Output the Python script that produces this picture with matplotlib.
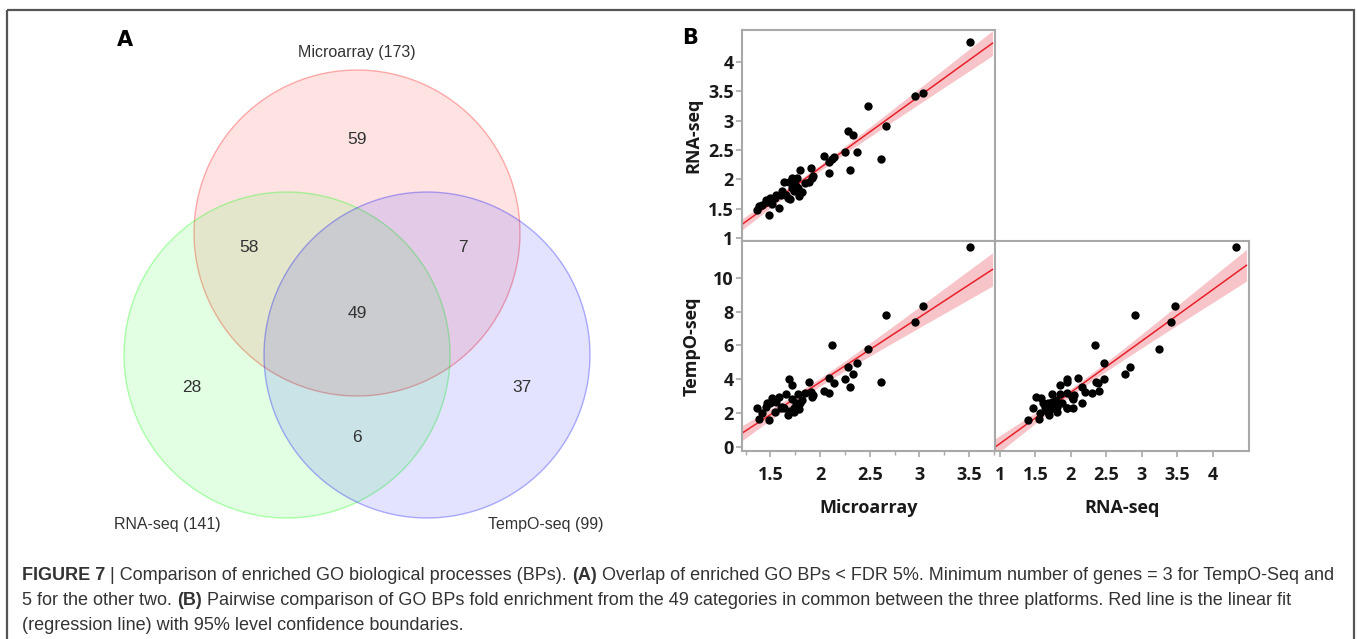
import numpy as np
import matplotlib
matplotlib.use("Agg")
import matplotlib.pyplot as plt
from matplotlib.patches import Circle, Rectangle
from matplotlib.ticker import MultipleLocator

W, H = 1357, 639

# ---- panel A : venn counts ----
set_names = ["Microarray (173)", "RNA-seq (141)", "TempO-seq (99)"]
only_counts = [59, 28, 37]        # microarray, rna-seq, tempo-seq
pair_counts = [58, 7, 6]          # micro&rna, micro&tempo, rna&tempo
all_count = 49
venn_colors = ["red", "lime", "blue"]

# ---- panel B : fold enrichment of the 49 shared GO BPs ----
microarray = [3.51, 2.95, 3.04, 2.48, 2.66, 2.12, 2.61, 2.37, 2.28, 2.33, 2.30, 2.25, 2.09, 2.14, 2.04, 2.09,
              1.36, 1.39, 1.42, 1.46, 1.47, 1.49, 1.50, 1.52, 1.55, 1.56, 1.59, 1.61, 1.62, 1.64, 1.66, 1.68,
              1.69, 1.70, 1.72, 1.72, 1.74, 1.74, 1.76, 1.77, 1.78, 1.79, 1.80, 1.82, 1.85, 1.89, 1.91, 1.92, 1.93]
rnaseq = [4.33, 3.41, 3.46, 3.24, 2.90, 2.34, 2.35, 2.46, 2.83, 2.76, 2.15, 2.46, 2.10, 2.38, 2.40, 2.30,
          1.47, 1.55, 1.57, 1.64, 1.61, 1.40, 1.68, 1.58, 1.68, 1.73, 1.51, 1.73, 1.80, 1.95, 1.73, 1.69,
          1.95, 1.66, 2.03, 1.85, 1.95, 1.80, 1.88, 2.03, 1.85, 1.71, 2.15, 1.79, 1.94, 1.95, 2.20, 2.02, 2.05]
tempo = [11.86, 7.41, 8.36, 5.81, 7.83, 6.01, 3.85, 4.94, 4.72, 4.31, 3.56, 3.99, 4.05, 3.79, 3.30, 3.16,
         2.27, 1.64, 2.02, 2.37, 2.57, 1.58, 2.57, 2.90, 2.08, 2.67, 2.96, 2.27, 2.37, 2.27, 3.14, 1.88,
         4.01, 2.11, 2.83, 3.66, 2.27, 2.08, 2.57, 2.31, 3.10, 2.23, 2.57, 2.77, 3.16, 3.83, 3.26, 2.96, 3.06]

micro_ticks = [1.5, 2, 2.5, 3, 3.5]
rna_ticks = [1, 1.5, 2, 2.5, 3, 3.5, 4]
tempo_ticks = [0, 2, 4, 6, 8, 10]

caption = [
    [("FIGURE 7", True), (" | Comparison of enriched GO biological processes (BPs). ", False), ("(A)", True),
     (" Overlap of enriched GO BPs < FDR 5%. Minimum number of genes = 3 for TempO-Seq and", False)],
    [("5 for the other two. ", False), ("(B)", True),
     (" Pairwise comparison of GO BPs fold enrichment from the 49 categories in common between the three platforms. Red line is the linear fit", False)],
    [("(regression line) with 95% level confidence boundaries.", False)],
]

fig = plt.figure(figsize=(W / 100, H / 100), dpi=100)
bg = fig.add_axes([0, 0, 1, 1])
bg.set_xlim(0, W)
bg.set_ylim(H, 0)
bg.axis("off")

# outer frame
bg.add_patch(Rectangle((7, 10), 1347, 700, fill=False, ec="#555555", lw=1.6))

# venn circles
r = 163
centers = [(357, 233), (287, 355), (427, 355)]
for (cx, cy), col in zip(centers, venn_colors):
    bg.add_patch(Circle((cx, cy), r, fc=col, alpha=0.11, ec="none"))
    bg.add_patch(Circle((cx, cy), r, fill=False, ec=col, alpha=0.3, lw=1))

vfont = dict(family="Liberation Sans", color="#333333", ha="center", va="center")
bg.text(125, 40, "A", fontsize=15, fontweight="bold", family="DejaVu Sans", ha="center", va="center")
for (x, y), s in zip([(357, 53), (167, 524), (546, 524)], set_names):
    bg.text(x, y, s, fontsize=11.5, **vfont)
for (x, y), n in zip([(357, 140), (192, 387), (522, 387)], only_counts):
    bg.text(x, y, str(n), fontsize=12.5, **vfont)
for (x, y), n in zip([(249, 248), (463, 248), (357, 438)], pair_counts):
    bg.text(x, y, str(n), fontsize=12.5, **vfont)
bg.text(357, 313, str(all_count), fontsize=12.5, **vfont)

# caption with bold pieces
rend = fig.canvas.get_renderer()
cap_kw = dict(family="Liberation Sans", fontsize=13, color="#333333", va="baseline")


def width_of(s, **kw):
    t1 = bg.text(0, 0, "|" + s + "|", **kw)
    t2 = bg.text(0, 0, "||", **kw)
    w = t1.get_window_extent(renderer=rend).width - t2.get_window_extent(renderer=rend).width
    t1.remove()
    t2.remove()
    return w


for i, line in enumerate(caption):
    x = 22
    y = 580 + 25 * i
    for s, bold in line:
        kw = dict(cap_kw, fontweight="bold" if bold else "normal")
        bg.text(x, y, s, **kw)
        x += width_of(s, **kw)

# ---- panel B ----
bg.text(690, 38, "B", fontsize=15, fontweight="bold", family="DejaVu Sans", ha="center", va="center")

sfont = "Open Sans"
grey = "#a8a8a8"


def px_axes(x0, y0, x1, y1):
    return fig.add_axes([x0 / W, 1 - y1 / H, (x1 - x0) / W, (y1 - y0) / H])


def style(ax):
    for sp in ax.spines.values():
        sp.set_color(grey)
        sp.set_linewidth(1.5)
    ax.tick_params(colors=grey, labelcolor="#1a1a1a", labelsize=13, length=4, width=1.2, pad=2)
    ax.tick_params(which="minor", colors=grey, length=3, width=1)
    for lab in ax.get_xticklabels() + ax.get_yticklabels():
        lab.set_fontweight("bold")
        lab.set_family(sfont)


def scatter_fit(ax, x, y, xlim, ylim):
    x = np.asarray(x)
    y = np.asarray(y)
    n = len(x)
    b, a = np.polyfit(x, y, 1)
    s = np.sqrt(np.sum((y - (a + b * x)) ** 2) / (n - 2))
    xs = np.linspace(xlim[0], xlim[1] - 0.01 * (xlim[1] - xlim[0]), 200)
    se = s * np.sqrt(1 / n + (xs - x.mean()) ** 2 / np.sum((x - x.mean()) ** 2))
    t = 2.012
    fit = a + b * xs
    ax.fill_between(xs, fit - t * se, fit + t * se, color="#f4a6ad", alpha=0.65, lw=0)
    ax.plot(xs, fit, color="#e8202a", lw=1.1)
    ax.scatter(x, y, s=36, color="black", zorder=3, lw=0)
    ax.set_xlim(xlim)
    ax.set_ylim(ylim)


micro_lim = (1.214, 3.76)
rna_lim = (0.93, 4.51)
tempo_lim = (-0.26, 12.2)
lab_kw = dict(fontsize=13, fontweight="bold", family=sfont, color="#1a1a1a")

ax1 = px_axes(742, 30, 995, 241)
scatter_fit(ax1, microarray, rnaseq, micro_lim, (0.95, 4.54))
ax1.set_yticks(rna_ticks)
ax1.set_yticklabels([f"{v:g}" for v in rna_ticks])
ax1.set_xticks([])
style(ax1)
ax1.set_ylabel("RNA-seq", **lab_kw)
ax1.yaxis.set_label_coords(-0.158, 0.5)

ax2 = px_axes(742, 241, 995, 451)
scatter_fit(ax2, microarray, tempo, micro_lim, tempo_lim)
ax2.set_xticks(micro_ticks)
ax2.set_xticklabels([f"{v:g}" for v in micro_ticks])
ax2.xaxis.set_minor_locator(MultipleLocator(0.25))
ax2.set_yticks(tempo_ticks)
style(ax2)
ax2.tick_params(axis="x", pad=7)
ax2.set_ylabel("TempO-seq", **lab_kw)
ax2.yaxis.set_label_coords(-0.165, 0.5)
ax2.set_xlabel("Microarray", **lab_kw)
ax2.xaxis.set_label_coords(0.5, -48 / 210)

ax3 = px_axes(995, 241, 1249, 451)
scatter_fit(ax3, rnaseq, tempo, rna_lim, tempo_lim)
ax3.set_xticks(rna_ticks)
ax3.set_xticklabels([f"{v:g}" for v in rna_ticks])
ax3.set_yticks([])
style(ax3)
ax3.tick_params(axis="x", pad=7)
ax3.set_xlabel("RNA-seq", **lab_kw)
ax3.xaxis.set_label_coords(0.5, -48 / 210)

fig.savefig("out.png", dpi=100)
